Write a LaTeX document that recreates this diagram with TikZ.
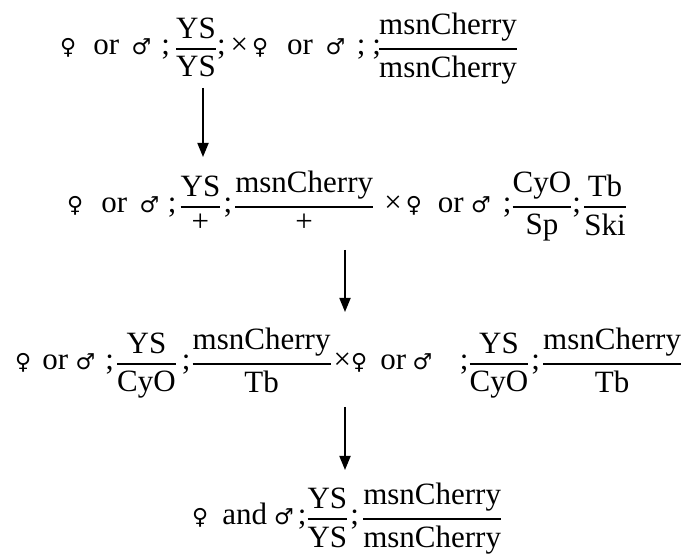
\documentclass[tikz,border=0pt]{standalone}
\usepackage{amsmath}
\usepackage{fontspec}
\setmainfont{Liberation Serif}
\newfontfamily\gsym{DejaVu Sans}
\usepackage{tikz}
\usetikzlibrary{arrows.meta}
\newcommand{\gfr}[2]{$\genfrac{}{}{2.2pt}{0}{\text{#1}}{\text{#2}}$}
\newcommand{\fem}{{\gsym\fontsize{22}{22}\selectfont ♀}}
\newcommand{\mal}{{\gsym\fontsize{22}{22}\selectfont ♂}}

\begin{document}
\begin{tikzpicture}[x=1pt,y=1pt,cross/.style={font=\fontsize{31}{37}\selectfont, inner sep=0pt, anchor=base west}, step arrow/.style={-{Triangle[length=14pt,width=11pt]}, line width=1.8pt}]
\useasboundingbox (0,0) rectangle (685,556);

% CROSSES

\node[cross] (parents) at (60,501)
{\fem\hspace{17pt}or\hspace{12.5pt}\mal\hspace{10pt};\hspace{5pt}\gfr{YS}{YS};\hspace{5pt}×\hspace{4pt}\fem\hspace{19pt}or\hspace{12.5pt}\mal\hspace{11.5pt};\hspace{7pt};\hspace{-3pt}\gfr{msnCherry}{msnCherry}};

\node[cross] (balancer) at (67,343)
{\fem\hspace{18pt}or\hspace{12.5pt}\mal\hspace{8.5pt};\hspace{3pt}\gfr{YS}{+}\hspace{2pt};\hspace{2pt}\gfr{msnCherry}{+}\hspace{10pt}×\hspace{4pt}\fem\hspace{16pt}or\hspace{7.5pt}\mal\hspace{12pt};\gfr{CyO}{Sp};\hspace{2pt}\gfr{Tb}{Ski}};

\node[cross] (sibs) at (15,186)
{\fem\hspace{11pt}or\hspace{7.5pt}\mal\hspace{10pt};\hspace{2pt}\gfr{YS}{CyO}\hspace{5pt};\hspace{1pt}\gfr{msnCherry}{Tb}\hspace{2pt}×\fem\hspace{13pt}or\hspace{6.5pt}\mal\hspace{27.5pt};\gfr{YS}{CyO}\hspace{2pt};\hspace{2pt}\gfr{msnCherry}{Tb}};

\node[cross] (stock) at (192,31)
{\fem\hspace{14pt}and\hspace{7pt}\mal\hspace{4pt};\gfr{YS}{YS}\hspace{2pt};\hspace{3pt}\gfr{msnCherry}{msnCherry}};

% ARROWS

\coordinate (a1top) at (203,468);
\coordinate (a1bot) at (203,399);
\coordinate (a2top) at (345,306);
\coordinate (a2bot) at (345,244);
\coordinate (a3top) at (345,149);
\coordinate (a3bot) at (345,86);

\draw[step arrow] (a1top) -- (a1bot);
\draw[step arrow] (a2top) -- (a2bot);
\draw[step arrow] (a3top) -- (a3bot);

\end{tikzpicture}
\end{document}
